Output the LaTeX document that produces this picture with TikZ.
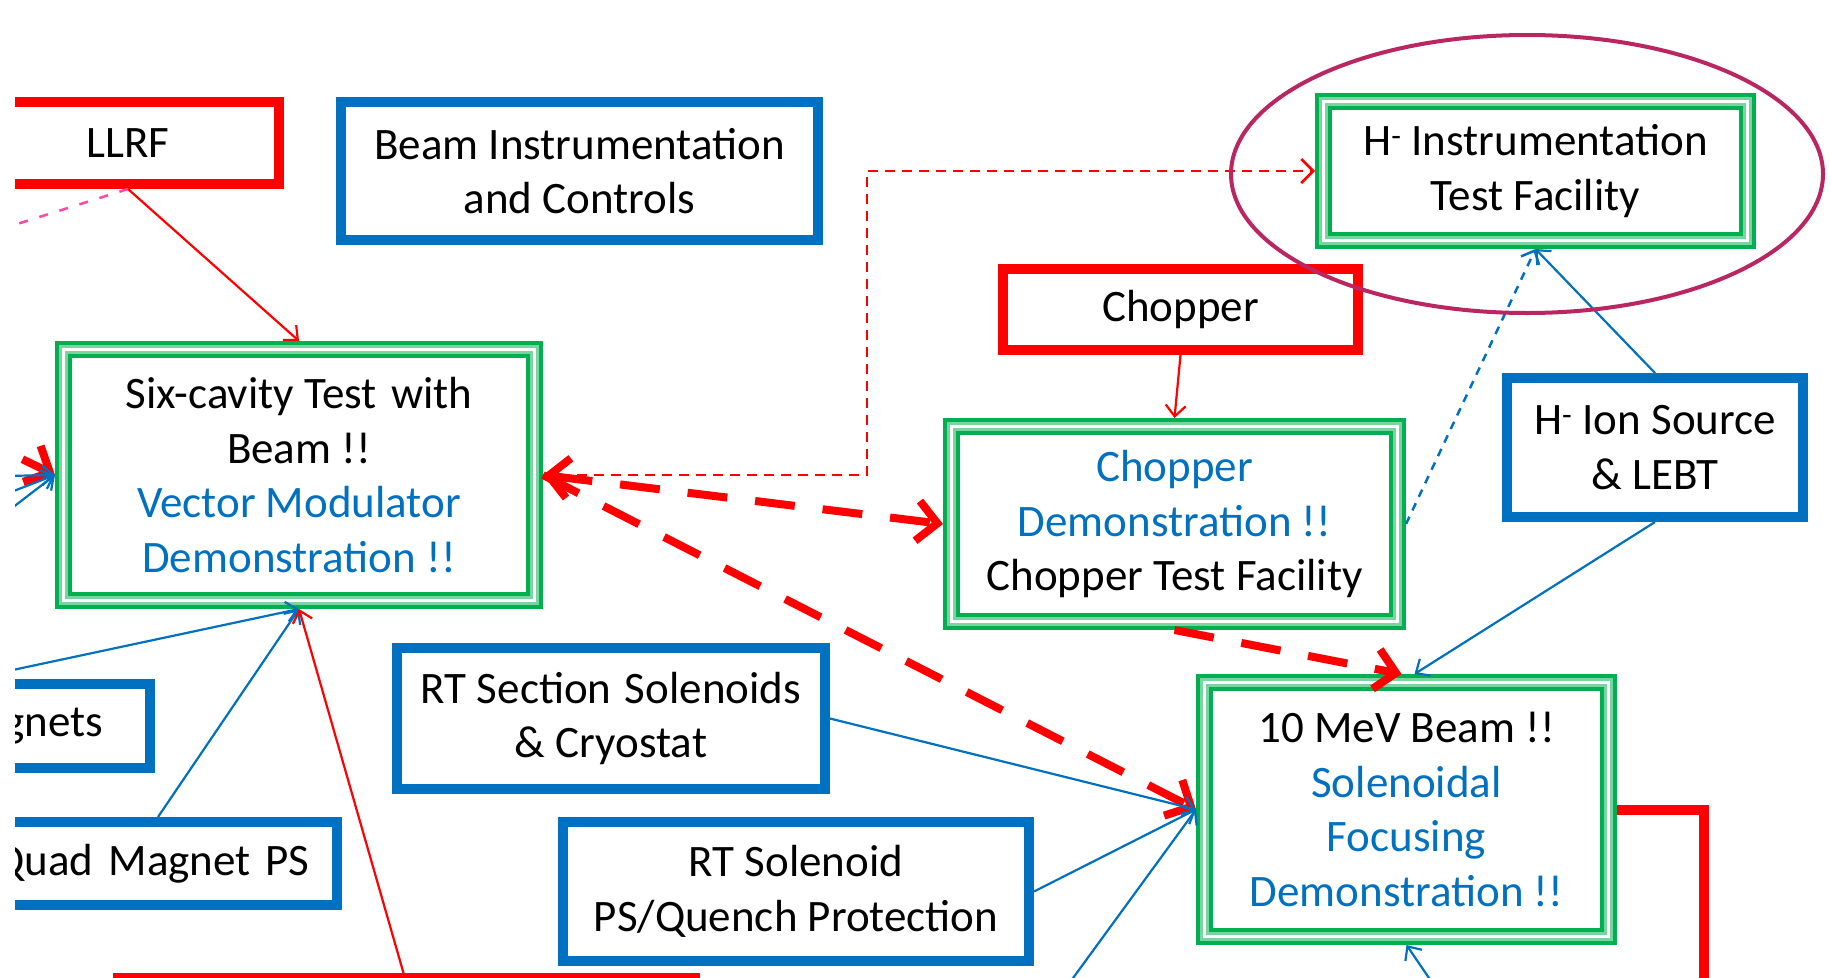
\documentclass[tikz,border=0pt]{standalone}
\usepackage{fontspec}
\setmainfont{Carlito}
\usetikzlibrary{arrows.meta,calc,shapes.geometric}
\definecolor{myblue}{RGB}{0,112,192}
\definecolor{mygreen}{RGB}{0,176,80}
\definecolor{lightgreen}{RGB}{122,212,160}
\definecolor{myred}{RGB}{255,0,0}
\definecolor{ellcol}{RGB}{185,38,98}
\definecolor{mypink}{RGB}{255,70,160}
\begin{document}
\begin{tikzpicture}[x=1pt,y=-1pt,
  box/.style={rectangle, fill=white, inner sep=0pt, align=center, font=\fontsize{45}{54.5}\selectfont, text=black},
  bluebox/.style={box, draw=myblue, line width=10pt},
  redbox/.style={box, draw=myred, line width=10pt},
  greenbox/.style={box, draw=mygreen, line width=17pt,
     postaction={draw=lightgreen, line width=9pt},
     postaction={draw=white, line width=3pt}},
  thinred/.style={draw=myred, line width=2.2pt, -{Straight Barb[length=11pt,width=20pt]}},
  thinblue/.style={draw=myblue, line width=2.2pt, -{Straight Barb[length=11pt,width=20pt]}},
  bluedash/.style={draw=myblue, line width=2.5pt, dash pattern=on 8pt off 7pt, -{Straight Barb[length=11pt,width=20pt]}},
  reddash/.style={draw=myred, line width=2.5pt, dash pattern=on 10pt off 7pt, -{Straight Barb[length=12pt,width=24pt]}},
  pinkdash/.style={draw=mypink, line width=2.5pt, dash pattern=on 9pt off 12pt},
  thickred/.style={draw=myred, line width=8pt, dash pattern=on 40pt off 28pt, -{Straight Barb[length=20pt,width=40pt]}},
  redL/.style={draw=myred, line width=10pt},
]
\useasboundingbox (0,0) rectangle (1830,977);
\begin{scope}
\clip (15,0) rectangle (1830,977);

% boxes
\node[redbox, minimum width=302, minimum height=82] (llrf) at (128,143) {LLRF};
\node[bluebox, minimum width=477, minimum height=138] (bic) at (579.5,171) {Beam Instrumentation\\and Controls};
\node[greenbox, minimum width=424, minimum height=139] (hinstr) at (1535.5,171) {H\textsuperscript{-} Instrumentation\\Test Facility};
\node[redbox, minimum width=355, minimum height=81] (chop) at (1180.5,309.5) {Chopper};
\node[greenbox, minimum width=446, minimum height=195] (chopdemo) at (1174.5,524)
  {\textcolor{myblue}{Chopper}\\\textcolor{myblue}{Demonstration !!}\\Chopper Test Facility};
\node[bluebox, minimum width=296, minimum height=139] (ion) at (1655,447.5) {H\textsuperscript{-} Ion Source\\\& LEBT};
\node[greenbox, minimum width=471, minimum height=251] (six) at (299,475)
  {Six-cavity Test\hspace{0.32em}with\\Beam !!\\\textcolor{myblue}{Vector Modulator}\\\textcolor{myblue}{Demonstration !!}};
\node[bluebox, text width=301pt, inner xsep=47pt, align=right, minimum height=84] (mag) at (-47.5,726) {Magnets};
\node[bluebox, text width=476pt, inner xsep=28pt, align=right, minimum height=83] (quad) at (71,863.5) {Quad Magnet\hspace{0.32em}PS};
\node[bluebox, minimum width=428, minimum height=141] (rtsec) at (611,718.5) {RT Section\hspace{0.3em}Solenoids\\\& Cryostat};
\node[bluebox, minimum width=466, minimum height=139] (rtsol) at (796,891.5) {RT Solenoid\\PS/Quench Protection};
\node[greenbox, minimum width=404, minimum height=254] (tenmev) at (1406.5,809.5)
  {10 MeV Beam !!\\\textcolor{myblue}{Solenoidal}\\\textcolor{myblue}{Focusing}\\\textcolor{myblue}{Demonstration !!}};
\node[redbox, minimum width=577, minimum height=90] (redbot) at (406.5,1023) {};

% connectors
\coordinate (pk) at (-100,261);
\draw[pinkdash] (llrf.south) -- (pk);
\draw[thinred] (llrf.south) -- (six.north);
\coordinate (la) at (-100,400);
\draw[thickred] (la) -- (six.west);
\coordinate (lb1) at (-100,478);
\coordinate (lb2) at (-100,535);
\coordinate (lb3) at (-100,594);
\draw[thinblue] (lb1) -- (six.west);
\draw[thinblue] (lb2) -- (six.west);
\draw[thinblue] (lb3) -- (six.west);
\coordinate (lm) at (-100,694);
\draw[thinblue] (lm) -- (six.south);
\draw[thinblue] ([xshift=87pt]quad.north) -- (six.south);
\draw[thinred] ([xshift=-3pt]redbot.north) -- (six.south);
\draw[thickred, {Straight Barb[length=20pt,width=40pt]}-{Straight Barb[length=20pt,width=40pt]}] (six.east) -- (chopdemo.west);
\draw[thickred] (six.east) -- (tenmev.west);
\coordinate (vx) at (867,0);
\draw[reddash] (six.east) -| (vx |- hinstr.west) -- (hinstr.west);
\draw[thinred] (chop.south) -- (chopdemo.north);
\draw[thickred] (chopdemo.south) -- ([xshift=-5pt]tenmev.north);
\draw[bluedash] (chopdemo.east) -- (hinstr.south);
\draw[thinblue] (ion.north) -- (hinstr.south);
\draw[thinblue] (ion.south) -- ([xshift=8pt]tenmev.north);
\draw[thinblue] (rtsec.east) -- (tenmev.west);
\draw[thinblue] (rtsol.east) -- (tenmev.west);
\coordinate (b1) at (1057,1000);
\coordinate (b2) at (1444,1000);
\draw[thinblue] (b1) -- (tenmev.west);
\draw[thinblue] (b2) -- (tenmev.south);
\coordinate (rc) at (1704,1000);
\draw[redL] (tenmev.east) -| (rc);

% highlight ellipse
\node[draw=ellcol, line width=4pt, ellipse, inner sep=0pt, minimum width=592, minimum height=278] (ell) at (1527,174) {};
\end{scope}
\end{tikzpicture}
\end{document}
